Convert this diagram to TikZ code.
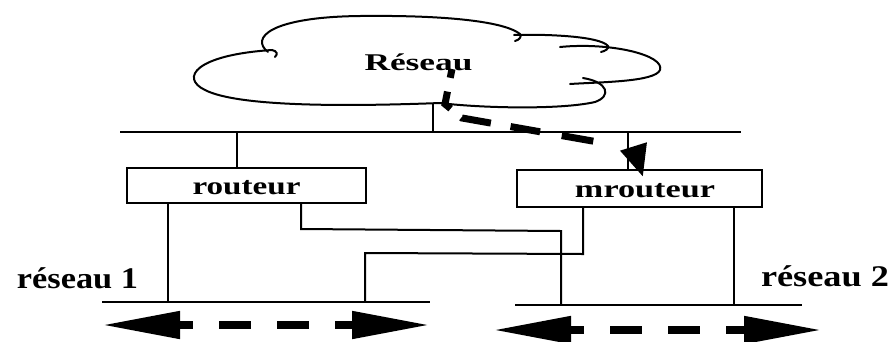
\documentclass[tikz,border=0pt]{standalone}
\usepackage{fontspec}
\setmainfont{Liberation Serif}
\usetikzlibrary{arrows.meta}
\begin{document}
\begin{tikzpicture}[x=1pt,y=-1pt,
  wire/.style={line width=2pt},
  boxst/.style={draw, line width=2pt, inner sep=0pt, anchor=base},
  lbl/.style={inner sep=0pt, anchor=base},
  dualarrow/.style={line width=8pt, {Triangle[length=78pt,width=26pt]}-{Triangle[length=78pt,width=26pt]}, dash pattern=on 32pt off 26pt, dash phase=17pt},
  flow/.style={line width=7pt, -{Triangle[length=32pt,width=26pt]}, dash pattern=on 9pt off 14pt on 20pt off 14pt on 30pt off 20pt on 30pt off 22pt on 32pt off 60pt}]
\useasboundingbox (0,0) rectangle (891,341);

% cloud
\draw[wire, line cap=round]
  (440,103) .. controls (360,106) and (240,108) .. (205,90)
  .. controls (180,78) and (195,55) .. (272,50)
  .. controls (277,51) and (278,54) .. (275,57);
\draw[wire, line cap=round]
  (268,52) .. controls (250,38) and (270,17) .. (360,16)
  .. controls (450,15) and (505,22) .. (520,34)
  .. controls (522,37) and (519,40) .. (515,41);
\draw[wire, line cap=round]
  (514,35) .. controls (545,34) and (600,36) .. (608,46)
  .. controls (609,49) and (605,51) .. (601,52);
\draw[wire, line cap=round]
  (560,47) .. controls (610,42) and (665,55) .. (660,70)
  .. controls (655,82) and (600,82) .. (570,84);
\draw[wire, line cap=round]
  (583,78) .. controls (608,82) and (612,96) .. (595,102)
  .. controls (560,110) and (480,108) .. (440,103);
\node[lbl, font=\fontsize{24}{26}\selectfont\bfseries] (reseau) at (418.5,70) {\resizebox{108pt}{\height}{Réseau}};

% top bus
\coordinate (cfoot) at (433,104);
\coordinate (busL) at (120,132);
\coordinate (busR) at (741,132);
\coordinate (b1) at (237,132);
\coordinate (b2) at (628,132);
\draw[wire] (busL) -- (busR);
\draw[wire] (cfoot) -- (cfoot |- busL);

% routers
\node[boxst, minimum width=239pt, text height=26pt, text depth=9pt, font=\fontsize{25}{27}\selectfont\bfseries] (routeur) at (246.5,194) {\resizebox{108pt}{\height}{routeur}};
\node[boxst, minimum width=245pt, text height=27pt, text depth=10pt, font=\fontsize{25}{27}\selectfont\bfseries] (mrouteur) at (639.5,197) {\hspace*{11pt}\resizebox{140pt}{\height}{mrouteur}};
\draw[wire] (b1) -- (b1 |- routeur.north);
\draw[wire] (b2) -- (b2 |- mrouteur.north);

% networks
\coordinate (n1L) at (102,302);
\coordinate (n1R) at (430,302);
\coordinate (n2L) at (515,305);
\coordinate (n2R) at (802,305);
\draw[wire] (n1L) -- (n1R);
\draw[wire] (n2L) -- (n2R);
\coordinate (a1) at (168,302);
\draw[wire] (a1 |- routeur.south) -- (a1);
\coordinate (w1) at (301,229);
\coordinate (w2) at (561,231);
\draw[wire] (w1 |- routeur.south) -- (w1) -- (w2) -- (w2 |- n2L);
\coordinate (m1) at (583,254);
\coordinate (m2) at (365,253);
\draw[wire] (m1 |- mrouteur.south) -- (m1) -- (m2) -- (m2 |- n1L);
\coordinate (a2) at (734,305);
\draw[wire] (a2 |- mrouteur.south) -- (a2);

\node[lbl, font=\fontsize{30}{32}\selectfont\bfseries] (r1) at (77.5,288) {\resizebox{121pt}{\height}{réseau 1}};
\node[lbl, font=\fontsize{30}{32}\selectfont\bfseries] (r2) at (825,286) {\resizebox{128pt}{\height}{réseau 2}};

% traffic arrows
\coordinate (t1L) at (102,325);
\coordinate (t1R) at (430,325);
\coordinate (t2L) at (493,330);
\coordinate (t2R) at (822,330);
\draw[dualarrow] (t1L) -- (t1R);
\draw[dualarrow] (t2L) -- (t2R);

% multicast flow
\coordinate (f0) at (452,69);
\coordinate (f1) at (445,104);
\coordinate (f2) at (462,118);
\coordinate (f3) at (598,142);
\coordinate (f4) at (643,177);
\draw[flow] (f0) -- (f1) -- (f2) -- (f3) .. controls (615,143) and (633,145) .. (f4);
\end{tikzpicture}
\end{document}
